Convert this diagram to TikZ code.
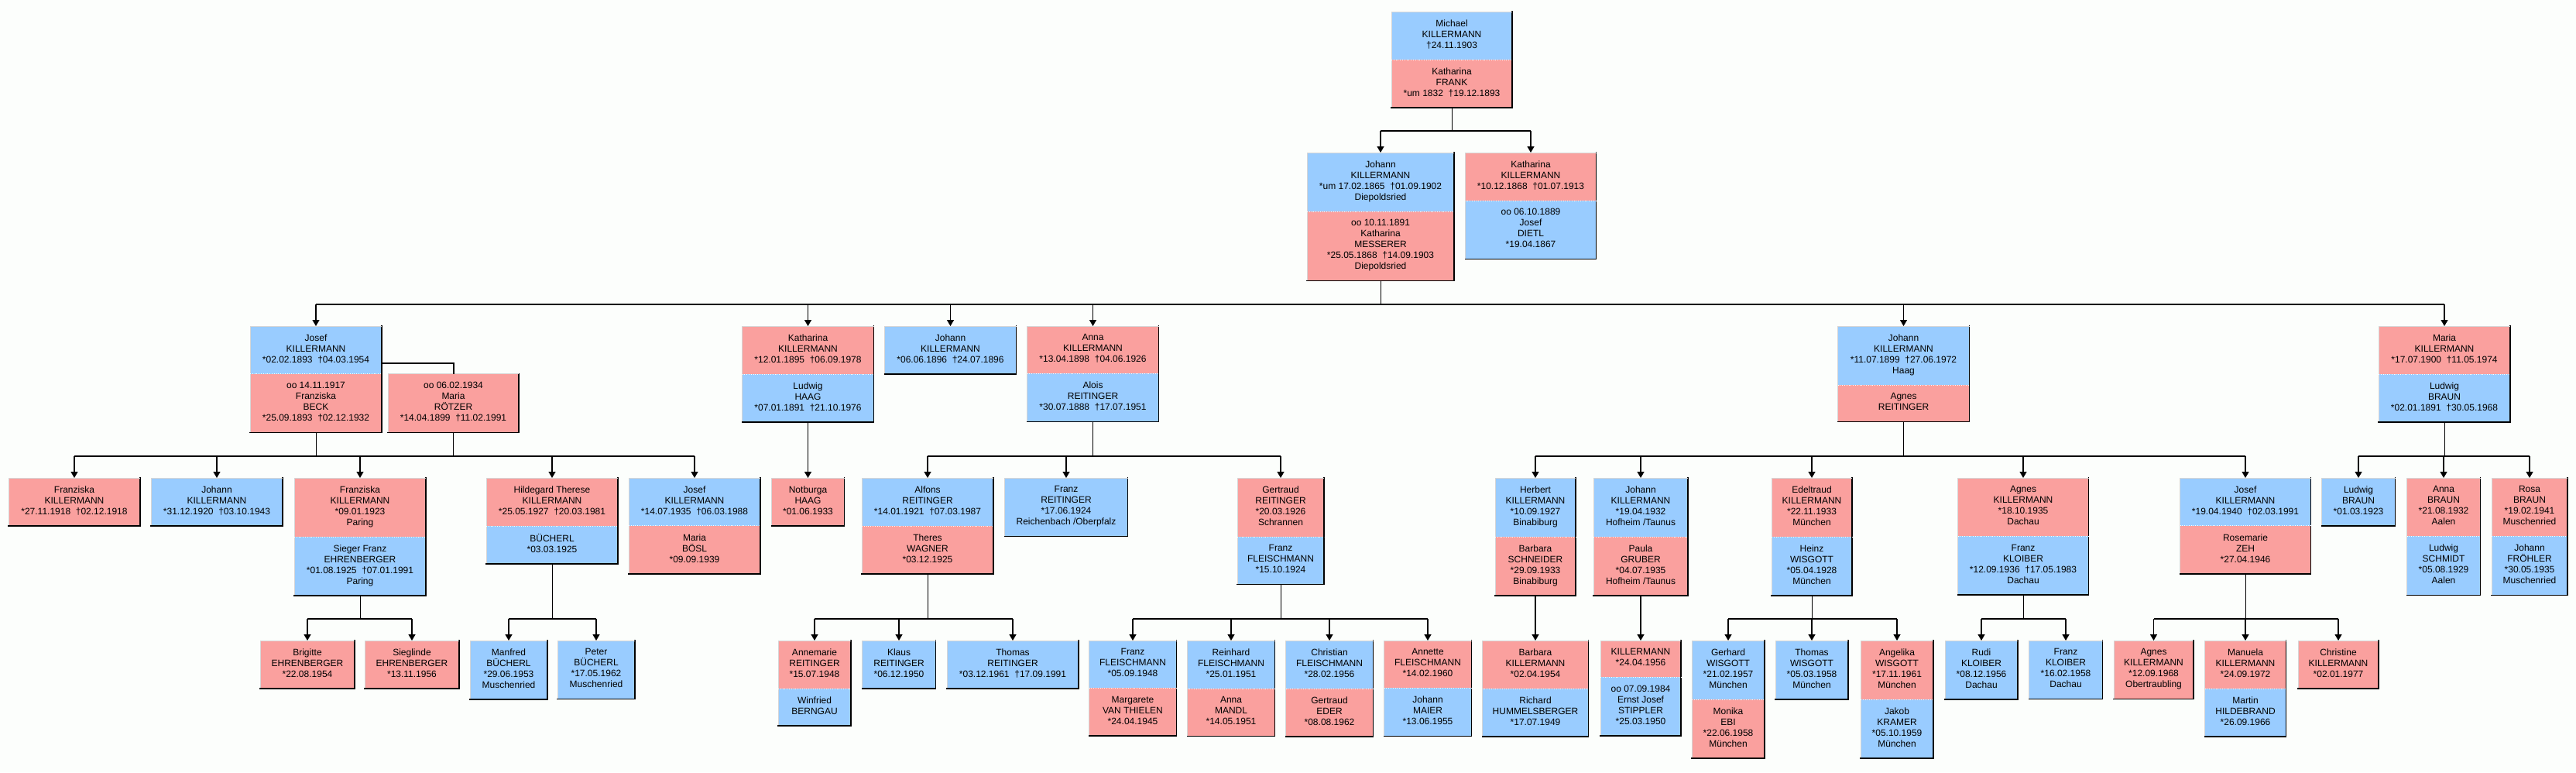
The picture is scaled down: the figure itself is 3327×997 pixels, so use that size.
\documentclass[tikz,border=0pt]{standalone}
\usepackage{fontspec}
\setmainfont{Liberation Sans}
\usetikzlibrary{arrows.meta}
\definecolor{manblue}{RGB}{153,204,255}
\definecolor{womanrose}{RGB}{250,160,158}
\definecolor{rimgrey}{RGB}{214,214,214}
\definecolor{paper}{RGB}{252,254,252}
\tikzset{
  sect/.style={anchor=north, minimum width=#1, inner xsep=0pt, inner ysep=10.5pt, outer sep=0pt,
    align=center, font=\fontsize{12}{14}\selectfont,
    execute at begin node=\strut, execute at end node=\strut},
  male/.style={sect=#1, fill=manblue},
  fem/.style={sect=#1, fill=womanrose},
  rimlite/.style={draw=rimgrey, line width=0.8pt, fill=none},
  rimdark/.style={draw=black, line width=1.6pt, line cap=rect, fill=none},
  sepdot/.style={draw=white, line width=0.8pt, dotted, fill=none},
  sides/.style={append after command={(\tikzlastnode.south west) edge[rimlite] (\tikzlastnode.north west)
      (\tikzlastnode.north east) edge[rimdark] (\tikzlastnode.south east)}},
  lidtop/.style={append after command={(\tikzlastnode.north west) edge[rimlite] (\tikzlastnode.north east)}},
  lidsplit/.style={append after command={(\tikzlastnode.north west) edge[sepdot] (\tikzlastnode.north east)}},
  lidbot/.style={append after command={(\tikzlastnode.south west) edge[rimdark] (\tikzlastnode.south east)}},
  solosec/.style={sides, lidtop, lidbot},
  headsec/.style={sides, lidtop},
  tailsec/.style={sides, lidsplit, lidbot},
  stem/.style={draw, line width=0.9pt},
  bar/.style={draw, line width=1.3pt},
  link/.style={draw, line width=1.3pt, -{Triangle[width=9pt,length=8pt]}},
  wed/.style={draw, line width=2pt},
}
\begin{document}
\begin{tikzpicture}[x=1pt,y=-1pt]
\fill[paper] (0,0) rectangle (3327,997);
\useasboundingbox (0,0) rectangle (3327,997);
\coordinate (g1) at (0,169);
\coordinate (g2) at (0,393);
\coordinate (g3) at (0,589);
\coordinate (g4) at (0,799);

\node[male=156, headsec] (p0) at (1875,15) {Michael\\KILLERMANN\\†24.11.1903};
\node[fem=156, tailsec] (s0) at (p0.south) {Katharina\\FRANK\\*um 1832\ \ †19.12.1893};

\node[male=190, headsec] (p1) at (1783,197) {Johann\\KILLERMANN\\*um 17.02.1865\ \ †01.09.1902\\Diepoldsried};
\node[fem=190, tailsec] (s1) at (p1.south) {oo 10.11.1891\\Katharina\\MESSERER\\*25.05.1868\ \ †14.09.1903\\Diepoldsried};
\node[fem=169, headsec] (p2) at (1977,197) {Katharina\\KILLERMANN\\*10.12.1868\ \ †01.07.1913};
\node[male=169, tailsec] (s2) at (p2.south) {oo 06.10.1889\\Josef\\DIETL\\*19.04.1867};

\node[male=170, headsec] (p3) at (408,421) {Josef\\KILLERMANN\\*02.02.1893\ \ †04.03.1954};
\node[fem=170, tailsec] (s3) at (p3.south) {oo 14.11.1917\\Franziska\\BECK\\*25.09.1893\ \ †02.12.1932};
\node[fem=169, solosec] (s3b) at (585.5,0 |- p3.south) {oo 06.02.1934\\Maria\\RÖTZER\\*14.04.1899\ \ †11.02.1991};
\node[fem=170, headsec] (p4) at (1043.5,421) {Katharina\\KILLERMANN\\*12.01.1895\ \ †06.09.1978};
\node[male=170, tailsec] (s4) at (p4.south) {Ludwig\\HAAG\\*07.01.1891\ \ †21.10.1976};
\node[male=170, solosec] (p5) at (1227.5,421) {Johann\\KILLERMANN\\*06.06.1896\ \ †24.07.1896};
\node[fem=170, headsec] (p6) at (1411.5,421) {Anna\\KILLERMANN\\*13.04.1898\ \ †04.06.1926};
\node[male=170, tailsec] (s6) at (p6.south) {Alois\\REITINGER\\*30.07.1888\ \ †17.07.1951};
\node[male=170, headsec] (p7) at (2458.5,421) {Johann\\KILLERMANN\\*11.07.1899\ \ †27.06.1972\\Haag};
\node[fem=170, tailsec] (s7) at (p7.south) {Agnes\\REITINGER};
\node[fem=170, headsec] (p8) at (3157,421) {Maria\\KILLERMANN\\*17.07.1900\ \ †11.05.1974};
\node[male=170, tailsec] (s8) at (p8.south) {Ludwig\\BRAUN\\*02.01.1891\ \ †30.05.1968};

\node[fem=170, solosec] (p9) at (96,617) {Franziska\\KILLERMANN\\*27.11.1918\ \ †02.12.1918};
\node[male=170, solosec] (p10) at (280,617) {Johann\\KILLERMANN\\*31.12.1920\ \ †03.10.1943};
\node[fem=170, headsec] (p11) at (465,617) {Franziska\\KILLERMANN\\*09.01.1923\\Paring};
\node[male=170, tailsec] (s11) at (p11.south) {Sieger Franz\\EHRENBERGER\\*01.08.1925\ \ †07.01.1991\\Paring};
\node[fem=170, headsec] (p12) at (713,617) {Hildegard Therese\\KILLERMANN\\*25.05.1927\ \ †20.03.1981};
\node[male=170, tailsec] (s12) at (p12.south) {BÜCHERL\\*03.03.1925};
\node[male=170, headsec] (p13) at (897,617) {Josef\\KILLERMANN\\*14.07.1935\ \ †06.03.1988};
\node[fem=170, tailsec] (s13) at (p13.south) {Maria\\BÖSL\\*09.09.1939};
\node[fem=94, solosec] (p14) at (1043.5,617) {Notburga\\HAAG\\*01.06.1933};
\node[male=170, headsec] (p15) at (1198,617) {Alfons\\REITINGER\\*14.01.1921\ \ †07.03.1987};
\node[fem=170, tailsec] (s15) at (p15.south) {Theres\\WAGNER\\*03.12.1925};
\node[male=159, solosec] (p16) at (1377,617) {Franz\\REITINGER\\*17.06.1924\\Reichenbach /Oberpfalz};
\node[fem=112, headsec] (p17) at (1654,617) {Gertraud\\REITINGER\\*20.03.1926\\Schrannen};
\node[male=112, tailsec] (s17) at (p17.south) {Franz\\FLEISCHMANN\\*15.10.1924};
\node[male=104, headsec] (p18) at (1983,617) {Herbert\\KILLERMANN\\*10.09.1927\\Binabiburg};
\node[fem=104, tailsec] (s18) at (p18.south) {Barbara\\SCHNEIDER\\*29.09.1933\\Binabiburg};
\node[male=122, headsec] (p19) at (2119,617) {Johann\\KILLERMANN\\*19.04.1932\\Hofheim /Taunus};
\node[fem=122, tailsec] (s19) at (p19.south) {Paula\\GRUBER\\*04.07.1935\\Hofheim /Taunus};
\node[fem=104, headsec] (p20) at (2340,617) {Edeltraud\\KILLERMANN\\*22.11.1933\\München};
\node[male=104, tailsec] (s20) at (p20.south) {Heinz\\WISGOTT\\*05.04.1928\\München};
\node[fem=169, headsec] (p21) at (2613,617) {Agnes\\KILLERMANN\\*18.10.1935\\Dachau};
\node[male=169, tailsec] (s21) at (p21.south) {Franz\\KLOIBER\\*12.09.1936\ \ †17.05.1983\\Dachau};
\node[male=169, headsec] (p22) at (2900,617) {Josef\\KILLERMANN\\*19.04.1940\ \ †02.03.1991};
\node[fem=169, tailsec] (s22) at (p22.south) {Rosemarie\\ZEH\\*27.04.1946};
\node[male=95, solosec] (p23) at (3046,617) {Ludwig\\BRAUN\\*01.03.1923};
\node[fem=95, headsec] (p24) at (3156,617) {Anna\\BRAUN\\*21.08.1932\\Aalen};
\node[male=95, tailsec] (s24) at (p24.south) {Ludwig\\SCHMIDT\\*05.08.1929\\Aalen};
\node[fem=98, headsec] (p25) at (3267,617) {Rosa\\BRAUN\\*19.02.1941\\Muschenried};
\node[male=98, tailsec] (s25) at (p25.south) {Johann\\FRÖHLER\\*30.05.1935\\Muschenried};

\node[fem=122, solosec] (p26) at (397,827) {Brigitte\\EHRENBERGER\\*22.08.1954};
\node[fem=122, solosec] (p27) at (532,827) {Sieglinde\\EHRENBERGER\\*13.11.1956};
\node[male=100, solosec] (p28) at (657,827) {Manfred\\BÜCHERL\\*29.06.1953\\Muschenried};
\node[male=100, solosec] (p29) at (770,827) {Peter\\BÜCHERL\\*17.05.1962\\Muschenried};
\node[fem=94, headsec] (p30) at (1052,827) {Annemarie\\REITINGER\\*15.07.1948};
\node[male=94, tailsec] (s30) at (p30.south) {Winfried\\BERNGAU};
\node[male=95, solosec] (p31) at (1161,827) {Klaus\\REITINGER\\*06.12.1950};
\node[male=170, solosec] (p32) at (1308,827) {Thomas\\REITINGER\\*03.12.1961\ \ †17.09.1991};
\node[male=113, headsec] (p33) at (1463,827) {Franz\\FLEISCHMANN\\*05.09.1948};
\node[fem=113, tailsec] (s33) at (p33.south) {Margarete\\VAN THIELEN\\*24.04.1945};
\node[male=113, headsec] (p34) at (1590,827) {Reinhard\\FLEISCHMANN\\*25.01.1951};
\node[fem=113, tailsec] (s34) at (p34.south) {Anna\\MANDL\\*14.05.1951};
\node[male=113, headsec] (p35) at (1717,827) {Christian\\FLEISCHMANN\\*28.02.1956};
\node[fem=113, tailsec] (s35) at (p35.south) {Gertraud\\EDER\\*08.08.1962};
\node[fem=113, headsec] (p36) at (1844,827) {Annette\\FLEISCHMANN\\*14.02.1960};
\node[male=113, tailsec] (s36) at (p36.south) {Johann\\MAIER\\*13.06.1955};
\node[fem=137, headsec] (p37) at (1983,827) {Barbara\\KILLERMANN\\*02.04.1954};
\node[male=137, tailsec] (s37) at (p37.south) {Richard\\HUMMELSBERGER\\*17.07.1949};
\node[fem=104, headsec] (p38) at (2119,827) {KILLERMANN\\*24.04.1956};
\node[male=104, tailsec] (s38) at (p38.south) {oo 07.09.1984\\Ernst Josef\\STIPPLER\\*25.03.1950};
\node[male=94, headsec] (p39) at (2232,827) {Gerhard\\WISGOTT\\*21.02.1957\\München};
\node[fem=94, tailsec] (s39) at (p39.south) {Monika\\EBI\\*22.06.1958\\München};
\node[male=94, solosec] (p40) at (2340,827) {Thomas\\WISGOTT\\*05.03.1958\\München};
\node[fem=94, headsec] (p41) at (2450,827) {Angelika\\WISGOTT\\*17.11.1961\\München};
\node[male=94, tailsec] (s41) at (p41.south) {Jakob\\KRAMER\\*05.10.1959\\München};
\node[male=94, solosec] (p42) at (2559,827) {Rudi\\KLOIBER\\*08.12.1956\\Dachau};
\node[male=95, solosec] (p43) at (2668,827) {Franz\\KLOIBER\\*16.02.1958\\Dachau};
\node[fem=103, solosec] (p44) at (2781.5,827) {Agnes\\KILLERMANN\\*12.09.1968\\Obertraubling};
\node[fem=105, headsec] (p45) at (2900,827) {Manuela\\KILLERMANN\\*24.09.1972};
\node[male=105, tailsec] (s45) at (p45.south) {Martin\\HILDEBRAND\\*26.09.1966};
\node[fem=104, solosec] (p46) at (3020,827) {Christine\\KILLERMANN\\*02.01.1977};

\draw[stem] (s0.south) -- (s0.south |- g1);
\draw[bar] (p1.north |- g1) -- (p2.north |- g1);
\draw[link] (p1.north |- g1) -- (p1.north);
\draw[link] (p2.north |- g1) -- (p2.north);

\draw[stem] (s1.south) -- (s1.south |- g2);
\draw[bar] (p3.north |- g2) -- (p8.north |- g2);
\draw[link] (p3.north |- g2) -- (p3.north);
\draw[link] (p4.north |- g2) -- (p4.north);
\draw[link] (p5.north |- g2) -- (p5.north);
\draw[link] (p6.north |- g2) -- (p6.north);
\draw[link] (p7.north |- g2) -- (p7.north);
\draw[link] (p8.north |- g2) -- (p8.north);

\draw[wed] ([yshift=14pt]p3.south east) -| (s3b.north);
\draw[stem] (s3.south) -- (s3.south |- g3);
\draw[stem] (s3b.south) -- (s3b.south |- g3);
\draw[bar] (p9.north |- g3) -- (p13.north |- g3);
\draw[link] (p9.north |- g3) -- (p9.north);
\draw[link] (p10.north |- g3) -- (p10.north);
\draw[link] (p11.north |- g3) -- (p11.north);
\draw[link] (p12.north |- g3) -- (p12.north);
\draw[link] (p13.north |- g3) -- (p13.north);
\draw[link] (s4.south) -- (p14.north);
\draw[stem] (s6.south) -- (s6.south |- g3);
\draw[bar] (p15.north |- g3) -- (p17.north |- g3);
\draw[link] (p15.north |- g3) -- (p15.north);
\draw[link] (p16.north |- g3) -- (p16.north);
\draw[link] (p17.north |- g3) -- (p17.north);
\draw[stem] (s7.south) -- (s7.south |- g3);
\draw[bar] (p18.north |- g3) -- (p22.north |- g3);
\draw[link] (p18.north |- g3) -- (p18.north);
\draw[link] (p19.north |- g3) -- (p19.north);
\draw[link] (p20.north |- g3) -- (p20.north);
\draw[link] (p21.north |- g3) -- (p21.north);
\draw[link] (p22.north |- g3) -- (p22.north);
\draw[stem] (s8.south) -- (s8.south |- g3);
\draw[bar] (p23.north |- g3) -- (p25.north |- g3);
\draw[link] (p23.north |- g3) -- (p23.north);
\draw[link] (p24.north |- g3) -- (p24.north);
\draw[link] (p25.north |- g3) -- (p25.north);

\draw[stem] (s11.south) -- (s11.south |- g4);
\draw[bar] (p26.north |- g4) -- (p27.north |- g4);
\draw[link] (p26.north |- g4) -- (p26.north);
\draw[link] (p27.north |- g4) -- (p27.north);
\draw[stem] (s12.south) -- (s12.south |- g4);
\draw[bar] (p28.north |- g4) -- (p29.north |- g4);
\draw[link] (p28.north |- g4) -- (p28.north);
\draw[link] (p29.north |- g4) -- (p29.north);
\draw[stem] (s15.south) -- (s15.south |- g4);
\draw[bar] (p30.north |- g4) -- (p32.north |- g4);
\draw[link] (p30.north |- g4) -- (p30.north);
\draw[link] (p31.north |- g4) -- (p31.north);
\draw[link] (p32.north |- g4) -- (p32.north);
\draw[stem] (s17.south) -- (s17.south |- g4);
\draw[bar] (p33.north |- g4) -- (p36.north |- g4);
\draw[link] (p33.north |- g4) -- (p33.north);
\draw[link] (p34.north |- g4) -- (p34.north);
\draw[link] (p35.north |- g4) -- (p35.north);
\draw[link] (p36.north |- g4) -- (p36.north);
\draw[link] (s18.south) -- (p37.north);
\draw[link] (s19.south) -- (p38.north);
\draw[stem] (s20.south) -- (s20.south |- g4);
\draw[bar] (p39.north |- g4) -- (p41.north |- g4);
\draw[link] (p39.north |- g4) -- (p39.north);
\draw[link] (p40.north |- g4) -- (p40.north);
\draw[link] (p41.north |- g4) -- (p41.north);
\draw[stem] (s21.south) -- (s21.south |- g4);
\draw[bar] (p42.north |- g4) -- (p43.north |- g4);
\draw[link] (p42.north |- g4) -- (p42.north);
\draw[link] (p43.north |- g4) -- (p43.north);
\draw[stem] (s22.south) -- (s22.south |- g4);
\draw[bar] (p44.north |- g4) -- (p46.north |- g4);
\draw[link] (p44.north |- g4) -- (p44.north);
\draw[link] (p45.north |- g4) -- (p45.north);
\draw[link] (p46.north |- g4) -- (p46.north);
\end{tikzpicture}
\end{document}
